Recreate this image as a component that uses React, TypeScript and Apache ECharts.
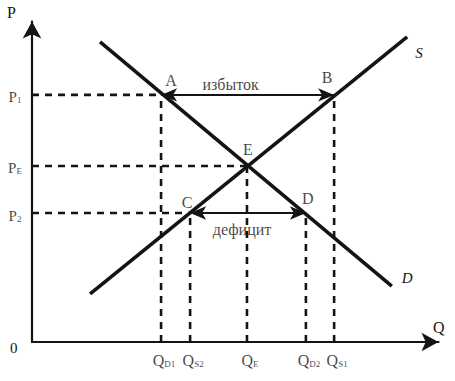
import React, { useEffect, useRef } from 'react';
import * as echarts from 'echarts';

const qNames = ['D1', 'S2', 'E', 'D2', 'S1'];
const qValues = [31.1, 38.1, 51.8, 66.0, 72.8];
const qReachP = [75.1, 39.2, 53.5, 39.2, 75.1];
const pNames = ['1', 'E', '2'];
const pValues = [75.1, 53.5, 39.2];
const pReachQ = [31.1, 51.8, 38.1];
const demandX = [16.4, 86.7];
const demandY = [91.2, 17.0];
const supplyX = [14.0, 90.4];
const supplyY = [14.6, 92.7];
const pointNames = ['A', 'B', 'C', 'D', 'E'];
const pointQ = [31.1, 72.8, 38.1, 66.0, 51.8];
const pointP = [75.1, 75.1, 39.2, 39.2, 53.5];
const surplusLabel = 'избыток';
const deficitLabel = 'дефицит';

const FONT = "'Liberation Serif', 'DejaVu Serif', serif";
const INK = '#141414';

export default function App() {
  const ref = useRef<HTMLDivElement>(null);
  useEffect(() => {
    if (!ref.current) return;
    const chart = echarts.init(ref.current, null, { renderer: 'svg' });
    const pointOffsets: Record<string, number[]> = {
      A: [10, -14], B: [-7, -17], C: [-3, -11], D: [2, -15], E: [1, -16],
    };
    const dash = { color: INK, width: 2.6, type: [7, 6] as any };
    const series: any[] = [];
    qValues.forEach((q, i) => {
      series.push({
        type: 'line', data: [[q, 0], [q, qReachP[i]]], symbol: 'none', silent: true,
        lineStyle: dash,
      });
    });
    pValues.forEach((p, i) => {
      series.push({
        type: 'line', data: [[0, p], [pReachQ[i], p]], symbol: 'none', silent: true,
        lineStyle: dash,
      });
    });
    series.push({
      type: 'line', name: 'D', data: demandX.map((x, i) => [x, demandY[i]]), symbol: 'none',
      lineStyle: { color: INK, width: 3.6 },
      endLabel: { show: true, formatter: 'D', fontFamily: FONT, fontStyle: 'italic', fontSize: 15, color: INK, offset: [2, -8] },
    });
    series.push({
      type: 'line', name: 'S', data: supplyX.map((x, i) => [x, supplyY[i]]), symbol: 'none',
      lineStyle: { color: INK, width: 3.6 },
      endLabel: { show: true, formatter: 'S', fontFamily: FONT, fontStyle: 'italic', fontSize: 15, color: INK, offset: [0, 16] },
      markLine: {
        silent: true, symbol: ['arrow', 'arrow'], symbolSize: [10, 16],
        lineStyle: { color: INK, width: 2.2, type: 'solid' },
        label: { show: false },
        data: [
          [{ coord: [pointQ[0], pointP[0]] }, { coord: [pointQ[1], pointP[1]] }],
          [{ coord: [pointQ[2], pointP[2]] }, { coord: [pointQ[3], pointP[3]] }],
        ],
      },
    });
    series.push({
      type: 'scatter', symbolSize: 0, silent: true,
      data: pointNames.map((n, i) => ({
        value: [pointQ[i], pointP[i]], name: n,
        label: { offset: pointOffsets[n] },
      })),
      label: { show: true, position: 'inside', formatter: '{b}', fontFamily: FONT, fontSize: 16, color: INK },
    });
    series.push({
      type: 'scatter', symbolSize: 0, silent: true,
      data: [
        { value: [(pointQ[0] + pointQ[1]) / 2, pointP[0]], name: surplusLabel, label: { offset: [-17, -10] } },
        { value: [(pointQ[2] + pointQ[3]) / 2, pointP[2]], name: deficitLabel, label: { offset: [-6, 16] } },
      ],
      label: { show: true, position: 'inside', formatter: '{b}', fontFamily: FONT, fontSize: 16, color: INK },
    });
    series.push({
      type: 'scatter', symbolSize: 0, silent: true,
      data: qValues.map((q, i) => ({ value: [q, 0], name: qNames[i] })),
      label: {
        show: true, position: 'inside', offset: [3, 17],
        formatter: (p: any) => `{a|Q}{b|${p.name.toUpperCase()}}`,
        rich: {
          a: { fontFamily: FONT, fontSize: 16, color: INK, verticalAlign: 'bottom', lineHeight: 18 },
          b: { fontFamily: FONT, fontSize: 9, color: INK, verticalAlign: 'bottom', lineHeight: 12 },
        },
      },
    });
    series.push({
      type: 'scatter', symbolSize: 0, silent: true,
      data: pValues.map((p, i) => ({ value: [0, p], name: pNames[i] })),
      label: {
        show: true, position: 'inside', offset: [-17, 1],
        formatter: (p: any) => `{a|P}{b|${p.name}}`,
        rich: {
          a: { fontFamily: FONT, fontSize: 15, color: INK, verticalAlign: 'bottom', lineHeight: 18 },
          b: { fontFamily: FONT, fontSize: 9, color: INK, verticalAlign: 'bottom', lineHeight: 10 },
        },
      },
    });

    const axisCommon = {
      type: 'value', min: 0,
      axisLine: { show: true, symbol: ['none', 'arrow'], symbolSize: [14, 17], lineStyle: { color: INK, width: 2.2 } },
      axisTick: { show: false }, axisLabel: { show: false }, splitLine: { show: false },
    };
    chart.setOption({
      animation: false,
      backgroundColor: '#ffffff',
      grid: { left: 32, right: 16.5, top: 21.5, bottom: 39 },
      xAxis: { ...axisCommon, max: 97.95 },
      yAxis: { ...axisCommon, max: 97.4 },
      graphic: [
        { type: 'text', left: 7, top: 4, style: { text: 'P', font: `16px ${FONT}`, fill: INK } },
        { type: 'text', left: 433, top: 319, style: { text: 'Q', font: `16px ${FONT}`, fill: INK } },
        { type: 'text', left: 10, top: 340, style: { text: '0', font: `15px ${FONT}`, fill: INK } },
      ],
      series,
    });
    return () => chart.dispose();
  }, []);
  return <div ref={ref} style={{ position: 'fixed', left: 0, top: 0, width: 455, height: 381, background: '#fff' }} />;
}
